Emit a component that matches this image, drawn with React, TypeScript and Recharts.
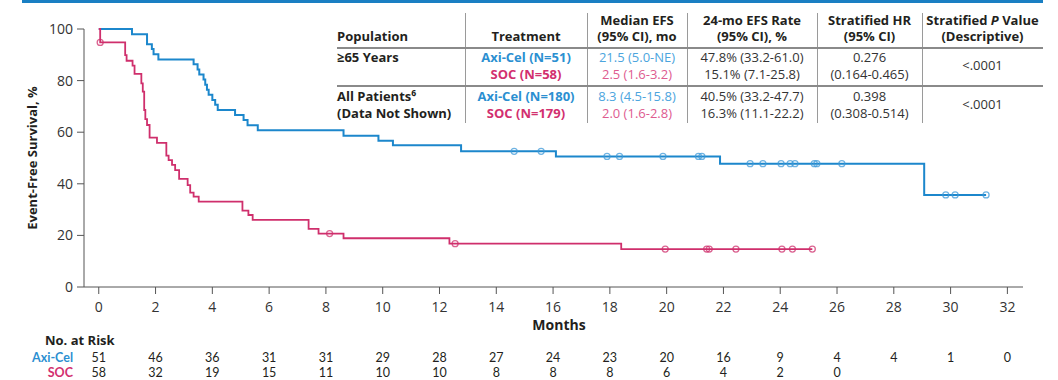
import React from 'react';
import { ComposedChart, Line, Scatter, XAxis, YAxis } from 'recharts';

const BLUE = '#1c87cc';
const PINK = '#cf2f6c';
const BLUE_TEXT = '#2b8fd1';
const PINK_TEXT = '#d2306f';
const BLUE_LIGHT = '#4ca5de';
const PINK_LIGHT = '#de5b8f';
const INK = '#231f20';
const RISK_FONT = 'Lato, "Open Sans", sans-serif';

// Kaplan-Meier steps (month, EFS %)
const axiTimes = [0, 1.17, 1.7, 1.87, 1.93, 2.1, 3.34, 3.48, 3.54, 3.69, 3.75, 3.81, 3.87, 4.0, 4.1, 4.19, 4.8, 5.1, 5.24, 5.6, 8.62, 9.85, 10.36, 12.76, 16.1, 21.88, 29.07, 31.25];
const axiEfs = [100, 98.0, 94.1, 92.2, 90.2, 88.2, 86.3, 84.3, 82.4, 80.4, 78.4, 76.5, 74.5, 72.5, 70.6, 68.6, 66.7, 64.7, 62.7, 60.8, 58.6, 56.7, 54.9, 52.6, 50.6, 47.8, 35.7, 35.7];
const axiCensored = [14.63, 15.58, 17.9, 18.34, 19.87, 21.12, 21.24, 22.94, 23.39, 24.03, 24.35, 24.52, 25.2, 25.29, 26.17, 29.83, 30.16, 31.25];

const socTimes = [0, 0.05, 0.93, 0.98, 1.19, 1.26, 1.5, 1.55, 1.6, 1.64, 1.7, 1.79, 2.05, 2.38, 2.46, 2.58, 2.69, 2.83, 3.13, 3.22, 3.34, 3.52, 5.06, 5.27, 5.42, 7.39, 7.74, 8.62, 12.35, 18.4, 25.13];
const socEfs = [100, 94.8, 89.9, 87.7, 85.8, 82.6, 78.9, 75.7, 68.6, 65.1, 62.8, 57.9, 55.9, 50.9, 49.2, 47.3, 45.3, 41.9, 39.5, 36.6, 35.0, 33.1, 29.6, 27.9, 26.0, 22.5, 20.7, 18.9, 16.8, 14.7, 14.7];
const socCensored = [0.05, 8.13, 12.55, 19.95, 21.41, 21.5, 22.44, 24.06, 24.43, 25.13];

const monthTicks = [0, 2, 4, 6, 8, 10, 12, 14, 16, 18, 20, 22, 24, 26, 28, 30, 32];
const efsTicks = [0, 20, 40, 60, 80, 100];
const axiAtRisk = [51, 46, 36, 31, 31, 29, 28, 27, 24, 23, 20, 16, 9, 4, 4, 1, 0];
const socAtRisk = [58, 32, 19, 15, 11, 10, 10, 8, 8, 8, 6, 4, 2, 0];

const efsAt = (times: number[], efs: number[], t: number) => {
  let v = efs[0];
  times.forEach((tt, i) => {
    if (tt <= t) v = efs[i];
  });
  return v;
};

const axiCurve = axiTimes.map((t, i) => ({ month: t, efs: axiEfs[i] }));
const socCurve = socTimes.map((t, i) => ({ month: t, efs: socEfs[i] }));
const axiMarks = axiCensored.map((t) => ({ month: t, efs: efsAt(axiTimes, axiEfs, t) }));
const socMarks = socCensored.map((t) => ({ month: t, efs: efsAt(socTimes, socEfs, t) }));

const censorShape = (color: string) => (p: any) => (
  <circle cx={p.cx} cy={p.cy} r={3} fill="none" stroke={color} strokeOpacity={0.75} strokeWidth={1.3} />
);

const MonthTick = (props: any) => {
  const { x, y, payload } = props;
  const i = monthTicks.indexOf(payload.value);
  return (
    <g>
      <text x={x} y={y + 16} textAnchor="middle" fontSize={14} fill="#333">{payload.value}</text>
      {axiAtRisk[i] !== undefined && (
        <text x={x} y={y + 65.5} textAnchor="middle" fontSize={12.5} fontFamily={RISK_FONT} fill={INK}>
          {axiAtRisk[i]}
        </text>
      )}
      {socAtRisk[i] !== undefined && (
        <text x={x} y={y + 81} textAnchor="middle" fontSize={12.5} fontFamily={RISK_FONT} fill={INK}>
          {socAtRisk[i]}
        </text>
      )}
    </g>
  );
};

const cols = [
  { x: 337, w: 128, align: 'left' },
  { x: 465, w: 122, align: 'center' },
  { x: 587, w: 100, align: 'center' },
  { x: 687, w: 130, align: 'center' },
  { x: 817, w: 105, align: 'center' },
  { x: 922, w: 121, align: 'center' },
];

const Cell = ({ col, top, lh = 17, children }: any) => (
  <div
    style={{
      position: 'absolute',
      left: cols[col].x,
      top,
      width: cols[col].w,
      textAlign: cols[col].align as any,
      lineHeight: lh + 'px',
      fontSize: 13,
      whiteSpace: 'nowrap',
    }}
  >
    {children}
  </div>
);

const b = (color: string, text: string) => <div style={{ color, fontWeight: 700 }}>{text}</div>;
const r = (color: string, text: string) => <div style={{ color }}>{text}</div>;

const SummaryTable = () => (
  <div style={{ position: 'absolute', left: 0, top: 0, width: 1058, height: 130, color: INK }}>
    {[465, 587, 687, 817, 922].map((x) => (
      <div key={x} style={{ position: 'absolute', left: x, top: 13, width: 1, height: 110, background: '#9a9a9a' }} />
    ))}
    {[47, 85].map((y) => (
      <div key={y} style={{ position: 'absolute', left: 337, top: y, width: 706, height: 1.5, background: '#8a8a8a' }} />
    ))}
    <Cell col={0} top={28} lh={17}>{b(INK, 'Population')}</Cell>
    <Cell col={1} top={28} lh={17}>{b(INK, 'Treatment')}</Cell>
    <Cell col={2} top={12} lh={16}>{b(INK, 'Median EFS')}{b(INK, '(95% CI), mo')}</Cell>
    <Cell col={3} top={12} lh={16}>{b(INK, '24-mo EFS Rate')}{b(INK, '(95% CI), %')}</Cell>
    <Cell col={4} top={12} lh={16}>{b(INK, 'Stratified HR')}{b(INK, '(95% CI)')}</Cell>
    <Cell col={5} top={12} lh={16}>
      <div style={{ fontWeight: 700 }}>Stratified <i>P</i> Value</div>
      {b(INK, '(Descriptive)')}
    </Cell>

    <Cell col={0} top={49}>{b(INK, '≥65 Years')}</Cell>
    <Cell col={1} top={49}>{b(BLUE_TEXT, 'Axi-Cel (N=51)')}{b(PINK_TEXT, 'SOC (N=58)')}</Cell>
    <Cell col={2} top={49}>{r(BLUE_LIGHT, '21.5 (5.0-NE)')}{r(PINK_LIGHT, '2.5 (1.6-3.2)')}</Cell>
    <Cell col={3} top={49}>{r('#333', '47.8% (33.2-61.0)')}{r('#333', '15.1% (7.1-25.8)')}</Cell>
    <Cell col={4} top={49}>{r('#333', '0.276')}{r('#333', '(0.164-0.465)')}</Cell>
    <Cell col={5} top={57}>{r('#333', '<.0001')}</Cell>

    <Cell col={0} top={88}>{b(INK, 'All Patients⁶')}{b(INK, '(Data Not Shown)')}</Cell>
    <Cell col={1} top={88}>{b(BLUE_TEXT, 'Axi-Cel (N=180)')}{b(PINK_TEXT, 'SOC (N=179)')}</Cell>
    <Cell col={2} top={88}>{r(BLUE_LIGHT, '8.3 (4.5-15.8)')}{r(PINK_LIGHT, '2.0 (1.6-2.8)')}</Cell>
    <Cell col={3} top={88}>{r('#333', '40.5% (33.2-47.7)')}{r('#333', '16.3% (11.1-22.2)')}</Cell>
    <Cell col={4} top={88}>{r('#333', '0.398')}{r('#333', '(0.308-0.514)')}</Cell>
    <Cell col={5} top={96}>{r('#333', '<.0001')}</Cell>
  </div>
);

const App = () => {
  return (
    <div
      style={{
        position: 'absolute',
        left: 0,
        top: 0,
        width: 1058,
        height: 380,
        background: '#fff',
        fontFamily: '"Open Sans", sans-serif',
        overflow: 'hidden',
      }}
    >
      <div style={{ position: 'absolute', left: 22, top: 0, width: 1021, height: 3, background: '#1a7fc3' }} />
      <ComposedChart width={1058} height={380} margin={{ top: 29, right: 35, bottom: 63, left: 24 }}>
        <XAxis
          type="number"
          dataKey="month"
          domain={[-0.52, 32.55]}
          ticks={monthTicks}
          allowDataOverflow
          height={30}
          tickSize={7}
          stroke="#555"
          tick={<MonthTick />}
          interval={0}
        />
        <YAxis
          type="number"
          dataKey="efs"
          domain={[0, 100]}
          ticks={efsTicks}
          width={60}
          tickSize={7}
          tickMargin={4}
          stroke="#555"
          tick={{ fontSize: 14, fill: '#333' }}
          interval={0}
        />
        <Line data={axiCurve} dataKey="efs" type="stepAfter" stroke={BLUE} strokeWidth={2} dot={false} isAnimationActive={false} />
        <Line data={socCurve} dataKey="efs" type="stepAfter" stroke={PINK} strokeWidth={1.8} dot={false} isAnimationActive={false} />
        <Scatter data={axiMarks} dataKey="efs" shape={censorShape('#3f9ad8')} isAnimationActive={false} />
        <Scatter data={socMarks} dataKey="efs" shape={censorShape(PINK)} isAnimationActive={false} />
      </ComposedChart>
      <svg width={1058} height={380} style={{ position: 'absolute', left: 0, top: 0, pointerEvents: 'none' }}>
        <text transform="translate(37,158) rotate(-90)" textAnchor="middle" fontSize={13} fontWeight={700} fill={INK}>
          Event-Free Survival, %
        </text>
        <text x={559} y={330} textAnchor="middle" fontSize={14} fontWeight={700} fill={INK}>Months</text>
        <text x={45} y={345} fontSize={13} fontWeight={700} fill={INK}>No. at Risk</text>
        <text x={73} y={361.5} textAnchor="end" fontSize={12.5} fontFamily={RISK_FONT} fontWeight={700} fill={BLUE_TEXT}>Axi-Cel</text>
        <text x={73} y={377} textAnchor="end" fontSize={12.5} fontFamily={RISK_FONT} fontWeight={700} fill={PINK_TEXT}>SOC</text>
      </svg>
      <SummaryTable />
    </div>
  );
};

export default App;
